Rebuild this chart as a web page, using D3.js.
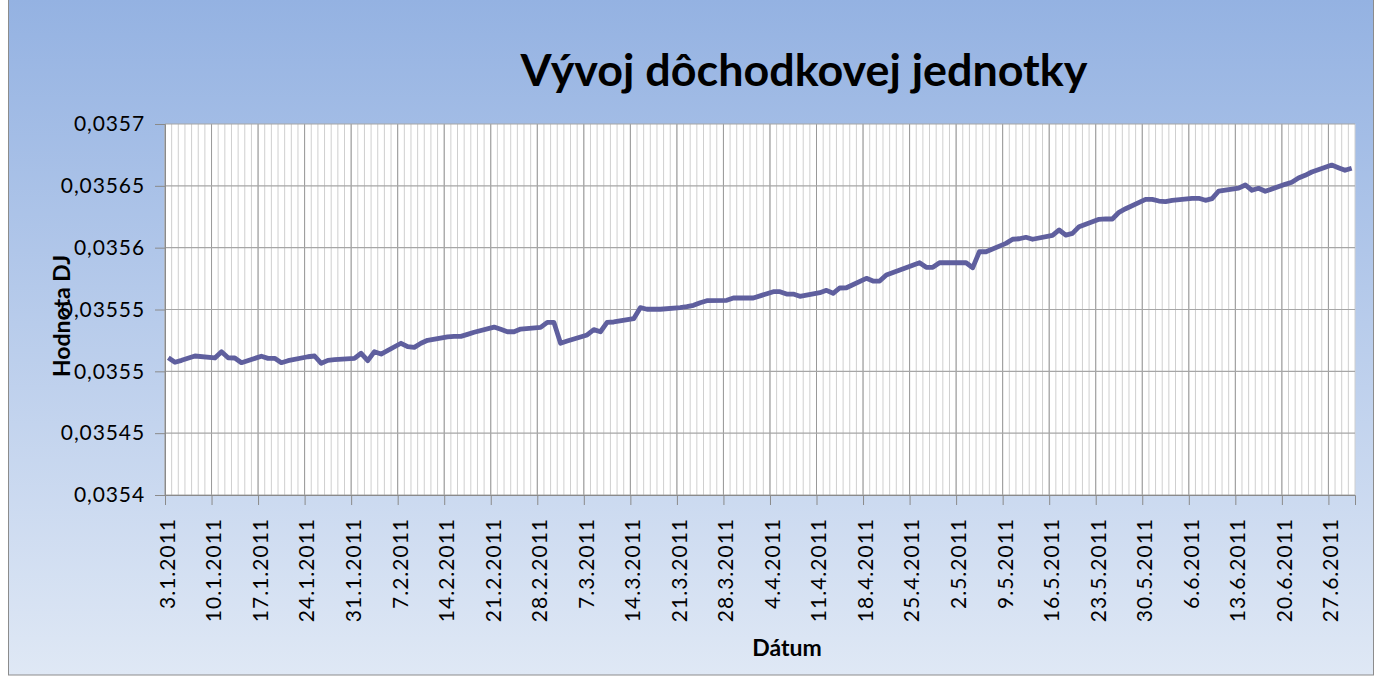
<!DOCTYPE html>
<html><head><meta charset="utf-8">
<script src="https://cdn.jsdelivr.net/npm/d3@7"></script>
<style>body{margin:0;overflow:hidden;background:#fff} svg{display:block}</style>
</head><body><svg id="c" width="1378" height="677"></svg>
<script>
const title = "Vývoj dôchodkovej jednotky";
const yTitle = "Hodnota DJ";
const xTitle = "Dátum";
const axisStart = "2011-01-03";
const axisEnd = "2011-07-01";
const yTicks = [0.0354, 0.03545, 0.0355, 0.03555, 0.0356, 0.03565, 0.0357];
const xTickLabels = ["3.1.2011","10.1.2011","17.1.2011","24.1.2011","31.1.2011","7.2.2011","14.2.2011","21.2.2011","28.2.2011","7.3.2011","14.3.2011","21.3.2011","28.3.2011","4.4.2011","11.4.2011","18.4.2011","25.4.2011","2.5.2011","9.5.2011","16.5.2011","23.5.2011","30.5.2011","6.6.2011","13.6.2011","20.6.2011","27.6.2011"];

const dates = [
"2011-01-03","2011-01-04","2011-01-05","2011-01-07","2011-01-10","2011-01-11","2011-01-12","2011-01-13","2011-01-14","2011-01-17","2011-01-18","2011-01-19","2011-01-20","2011-01-21","2011-01-24","2011-01-25","2011-01-26","2011-01-27","2011-01-28","2011-01-31",
"2011-02-01","2011-02-02","2011-02-03","2011-02-04","2011-02-07","2011-02-08","2011-02-09","2011-02-10","2011-02-11","2011-02-14","2011-02-15","2011-02-16","2011-02-17","2011-02-18","2011-02-21","2011-02-22","2011-02-23","2011-02-24","2011-02-25","2011-02-28",
"2011-03-01","2011-03-02","2011-03-03","2011-03-04","2011-03-07","2011-03-08","2011-03-09","2011-03-10","2011-03-11","2011-03-14","2011-03-15","2011-03-16","2011-03-17","2011-03-18","2011-03-21","2011-03-22","2011-03-23","2011-03-24","2011-03-25","2011-03-28","2011-03-29","2011-03-30","2011-03-31",
"2011-04-01","2011-04-04","2011-04-05","2011-04-06","2011-04-07","2011-04-08","2011-04-11","2011-04-12","2011-04-13","2011-04-14","2011-04-15","2011-04-18","2011-04-19","2011-04-20","2011-04-21","2011-04-26","2011-04-27","2011-04-28","2011-04-29",
"2011-05-02","2011-05-03","2011-05-04","2011-05-05","2011-05-06","2011-05-09","2011-05-10","2011-05-11","2011-05-12","2011-05-13","2011-05-16","2011-05-17","2011-05-18","2011-05-19","2011-05-20","2011-05-23","2011-05-24","2011-05-25","2011-05-26","2011-05-27","2011-05-30","2011-05-31",
"2011-06-01","2011-06-02","2011-06-03","2011-06-06","2011-06-07","2011-06-08","2011-06-09","2011-06-10","2011-06-13","2011-06-14","2011-06-15","2011-06-16","2011-06-17","2011-06-20","2011-06-21","2011-06-22","2011-06-23","2011-06-24","2011-06-27","2011-06-28","2011-06-29","2011-06-30"];

const values = [
0.0355110,0.0355073,0.0355089,0.0355124,0.0355108,0.0355159,0.0355110,0.0355108,0.0355070,0.0355122,0.0355105,0.0355105,0.0355070,0.0355086,0.0355118,0.0355124,0.0355065,0.0355089,0.0355094,0.0355105,
0.0355146,0.0355086,0.0355159,0.0355140,0.0355227,0.0355199,0.0355194,0.0355227,0.0355251,0.0355278,0.0355283,0.0355283,0.0355299,0.0355316,0.0355358,0.0355340,0.0355320,0.0355320,0.0355342,0.0355356,
0.0355396,0.0355396,0.0355227,0.0355245,0.0355294,0.0355337,0.0355320,0.0355396,0.0355399,0.0355426,0.0355515,0.0355502,0.0355502,0.0355502,0.0355515,0.0355523,0.0355534,0.0355555,0.0355571,0.0355574,0.0355593,0.0355593,0.0355593,
0.0355593,0.0355644,0.0355644,0.0355625,0.0355625,0.0355607,0.0355636,0.0355655,0.0355631,0.0355674,0.0355676,0.0355752,0.0355730,0.0355730,0.0355779,0.0355878,0.0355841,0.0355841,0.0355878,
0.0355878,0.0355878,0.0355838,0.0355967,0.0355967,0.0356035,0.0356068,0.0356072,0.0356084,0.0356068,0.0356100,0.0356143,0.0356102,0.0356116,0.0356170,0.0356229,0.0356232,0.0356232,0.0356286,0.0356315,0.0356391,0.0356391,
0.0356377,0.0356372,0.0356383,0.0356399,0.0356399,0.0356383,0.0356396,0.0356458,0.0356482,0.0356507,0.0356464,0.0356480,0.0356456,0.0356512,0.0356529,0.0356563,0.0356585,0.0356612,0.0356668,0.0356647,0.0356626,0.0356642];

const W = 1378, H = 677;
const m = {left: 165, right: 1355, top: 124, bottom: 495};
const svg = d3.select("#c");
const FONT = "Lato, 'Open Sans', 'DejaVu Sans', sans-serif";

// background gradient
const defs = svg.append("defs");
const g = defs.append("linearGradient").attr("id","bg").attr("x1",0).attr("y1",0).attr("x2",0).attr("y2",1);
g.append("stop").attr("offset","0%").attr("stop-color","#94b2e2");
g.append("stop").attr("offset","100%").attr("stop-color","#dfe8f5");
svg.append("rect").attr("x",8.5).attr("y",-1).attr("width",1365).attr("height",676)
  .attr("fill","url(#bg)").attr("stroke","#8c8c8c").attr("stroke-width",1);

const parse = d3.utcParse("%Y-%m-%d");
const parseLbl = d3.utcParse("%d.%m.%Y");
const x = d3.scaleUtc().domain([parse(axisStart), parse(axisEnd)]).range([m.left, m.right]);
const y = d3.scaleLinear().domain([yTicks[0], yTicks[yTicks.length-1]]).range([m.bottom, m.top]);

// plot area
svg.append("rect").attr("x",m.left).attr("y",m.top).attr("width",m.right-m.left).attr("height",m.bottom-m.top).attr("fill","#fff");

// minor vertical gridlines (daily)
const days = d3.utcDay.range(parse(axisStart), d3.utcDay.offset(parse(axisEnd),1));
svg.append("g").selectAll("line").data(days).join("line")
  .attr("x1",d=>x(d)).attr("x2",d=>x(d)).attr("y1",m.top).attr("y2",m.bottom)
  .attr("stroke","#cfcfcf").attr("stroke-width",1);

const tickDates = xTickLabels.map(s=>parseLbl(s));
// major vertical gridlines
svg.append("g").selectAll("line").data(tickDates).join("line")
  .attr("x1",d=>x(d)).attr("x2",d=>x(d)).attr("y1",m.top).attr("y2",m.bottom)
  .attr("stroke","#9a9a9a").attr("stroke-width",1);
// horizontal gridlines
svg.append("g").selectAll("line").data(yTicks).join("line")
  .attr("x1",m.left).attr("x2",m.right).attr("y1",d=>y(d)).attr("y2",d=>y(d))
  .attr("stroke","#a6a6a6").attr("stroke-width",1.2);

// axes
const fmtY = v => d3.format(".6~f")(v).replace(".", ",");
const yAxis = d3.axisLeft(y).tickValues(yTicks).tickSize(10).tickPadding(10).tickFormat(fmtY);
const ya = svg.append("g").attr("transform",`translate(${m.left},0)`).call(yAxis);
ya.select(".domain").attr("stroke","#8a8a8a");
ya.selectAll(".tick line").attr("stroke","#8a8a8a");
ya.selectAll(".tick text").attr("font-family",FONT).attr("font-size",21).attr("fill","#000").attr("letter-spacing","0.9px");

const fmtX = d3.utcFormat("%-d.%-m.%Y");
const xAxis = d3.axisBottom(x).tickValues(tickDates).tickSize(10).tickFormat(fmtX);
const xa = svg.append("g").attr("transform",`translate(0,${m.bottom})`).call(xAxis);
xa.select(".domain").attr("stroke","#8a8a8a");
xa.selectAll(".tick line").attr("stroke","#8a8a8a");
xa.selectAll(".tick text").attr("font-family",FONT).attr("font-size",21).attr("fill","#000").attr("letter-spacing","1px")
  .attr("text-anchor","end").attr("y",0).attr("dy","0.35em")
  .attr("transform","translate(2,23) rotate(-90)");

// line
const line = d3.line().x(d=>x(d3.utcHour.offset(d.date,12))).y(d=>y(d.value));
const data = dates.map((d,i)=>({date: parse(d), value: values[i]}));
svg.append("path").datum(data).attr("d",line).attr("fill","none")
  .attr("stroke","#5f5f9e").attr("stroke-width",4.8).attr("stroke-linejoin","round").attr("stroke-linecap","butt");

// titles
const t = svg.append("text").attr("x",804).attr("y",86).attr("text-anchor","middle")
  .attr("font-family",FONT).attr("font-weight","bold").attr("font-size",44).attr("fill","#000").text(title);
const tw = t.node().getComputedTextLength();
t.attr("font-size", 44*567/tw);

svg.append("text").attr("transform","translate(70,316) rotate(-90)").attr("text-anchor","middle")
  .attr("font-family",FONT).attr("font-weight","bold").attr("font-size",23).attr("fill","#000").text(yTitle);
svg.append("text").attr("x",787).attr("y",656).attr("text-anchor","middle")
  .attr("font-family",FONT).attr("font-weight","bold").attr("font-size",23).attr("fill","#000").text(xTitle);
</script></body></html>
